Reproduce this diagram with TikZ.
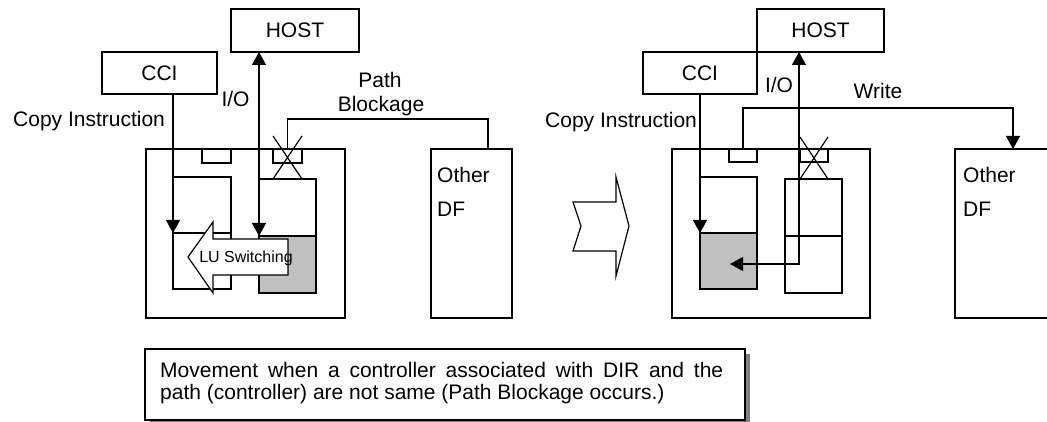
\documentclass[tikz,border=0pt]{standalone}
\usepackage{fontspec}
\setmainfont{Liberation Sans}
\usetikzlibrary{arrows.meta}
\definecolor{boxgray}{HTML}{C0C0C0}
\definecolor{shadowgray}{HTML}{808080}
\begin{document}
\begin{tikzpicture}[x=1pt,y=-1pt,
  bx/.style={draw, line width=1.2pt, inner sep=0pt, outer sep=0pt, anchor=north west, fill=white,
             font=\fontsize{21}{22}\selectfont},
  lbl/.style={font=\fontsize{21}{22}\selectfont, inner sep=0pt},
  ln/.style={line width=1.2pt},
  arr/.style={line width=1.2pt, -{Triangle[length=13pt,width=14pt]}},
  darr/.style={line width=1.2pt, {Triangle[length=13pt,width=14pt]}-{Triangle[length=13pt,width=14pt]}}]
\clip (0,0) rectangle (1047,422);
\fill[white] (0,0) rectangle (1047,422);

% ---------- left panel ----------
\node[bx, minimum width=128pt, minimum height=43pt] (hostL) at (231,9) {HOST};
\node[bx, minimum width=115pt, minimum height=42pt] (cciL) at (102,52) {CCI};
\node[bx, minimum width=199pt, minimum height=169pt] (outerL) at (146,149) {};
\node[bx, minimum width=29pt, minimum height=14pt] (portL1) at (202,149) {};
\node[bx, minimum width=29pt, minimum height=14pt] (portL2) at (273,149) {};
\node[bx, minimum width=58pt, minimum height=56pt] (luL1) at (173,177) {};
\node[bx, minimum width=58pt, minimum height=56pt] (luL2) at (173,233) {};
\node[bx, minimum width=57pt, minimum height=57pt] (luR1) at (259,179) {};
\node[bx, minimum width=57pt, minimum height=57pt, fill=boxgray] (luR2) at (259,236) {};
\node[bx, minimum width=81pt, minimum height=169pt] (dfL) at (431,149) {};

\node[lbl, anchor=base west] (ciL) at (13,127) {Copy Instruction};
\node[lbl, anchor=base] (ioL) at (235.5,107) {I/O};
\node[lbl, anchor=base] (pathL) at (380,88) {Path};
\node[lbl, anchor=base] (blkL) at (381,112) {Blockage};
\node[lbl, anchor=base west] (othL) at (437,183) {Other};
\node[lbl, anchor=base west] (dfLt) at (437,217) {DF};

\draw[arr] (cciL.south -| luL2.north west) -- (luL2.north west);
\draw[darr] (luR2.north west) -- (luR2.north west |- hostL.south);
\coordinate (pbL) at (488,119);
\draw[ln] (portL2.north) |- (pbL) -- (pbL |- dfL.north);
\draw[ln] (273,136) -- (302,179) (302,136) -- (273,179);

% LU switching block arrow
\draw[ln, fill=white] (188,257) -- (213,222) -- (213,239) -- (288,239) -- (288,275)
   -- (213,275) -- (213,293) -- cycle;
\node[font=\fontsize{16}{16}\selectfont, inner sep=0pt, anchor=base] (luS) at (246,262) {LU Switching};

% transition chevron
\draw[ln, fill=white] (573,202) -- (616,202) -- (616,177) -- (629,226) -- (616,276)
   -- (616,251) -- (573,251) -- (581,226) -- cycle;

% ---------- right panel ----------
\node[bx, minimum width=127pt, minimum height=43pt] (hostR) at (757,9) {HOST};
\node[bx, minimum width=114pt, minimum height=42pt] (cciR) at (643,52) {CCI};
\node[bx, minimum width=198pt, minimum height=169pt] (outerR) at (672,149) {};
\node[bx, minimum width=28pt, minimum height=13pt] (portR1) at (729,149) {};
\node[bx, minimum width=28pt, minimum height=13pt] (portR2) at (800,149) {};
\node[bx, minimum width=57pt, minimum height=56pt] (luA1) at (700,177) {};
\node[bx, minimum width=57pt, minimum height=56pt, fill=boxgray] (luA2) at (700,233) {};
\node[bx, minimum width=57pt, minimum height=57pt] (luB1) at (785,179) {};
\node[bx, minimum width=57pt, minimum height=57pt] (luB2) at (785,236) {};
\node[bx, minimum width=100pt, minimum height=169pt] (dfR) at (955,149) {};

\node[lbl, anchor=base west] (ciR) at (545,128) {Copy Instruction};
\node[lbl, anchor=base] (ioR) at (779,93) {I/O};
\node[lbl, anchor=base] (wrR) at (878,99) {Write};
\node[lbl, anchor=base west] (othR) at (963,183) {Other};
\node[lbl, anchor=base west] (dfRt) at (963,217) {DF};

\draw[arr] (cciR.south -| luA2.north west) -- (luA2.north west);
\coordinate (ioC) at (799,264);
\coordinate (ioT) at (730,264);
\draw[darr] (ioT) -- (ioC) -- (ioC |- hostR.south);
\coordinate (wrC) at (1013,108);
\draw[arr] (portR1.north) |- (wrC) -- (wrC |- dfR.north);
\draw[ln] (800,137) -- (828,179) (828,137) -- (800,179);

% ---------- note ----------
\fill[shadowgray] (150,354) rectangle (750,426);
\node[bx, minimum width=600pt, minimum height=71pt] (note) at (145,349) {};
\node[lbl, anchor=base west] (noteA) at (160,377)
  {\makebox[563pt][s]{Movement when a controller associated with DIR and the}};
\node[lbl, anchor=base west] (noteB) at (160,399)
  {path (controller) are not same (Path Blockage occurs.)};
\end{tikzpicture}
\end{document}
